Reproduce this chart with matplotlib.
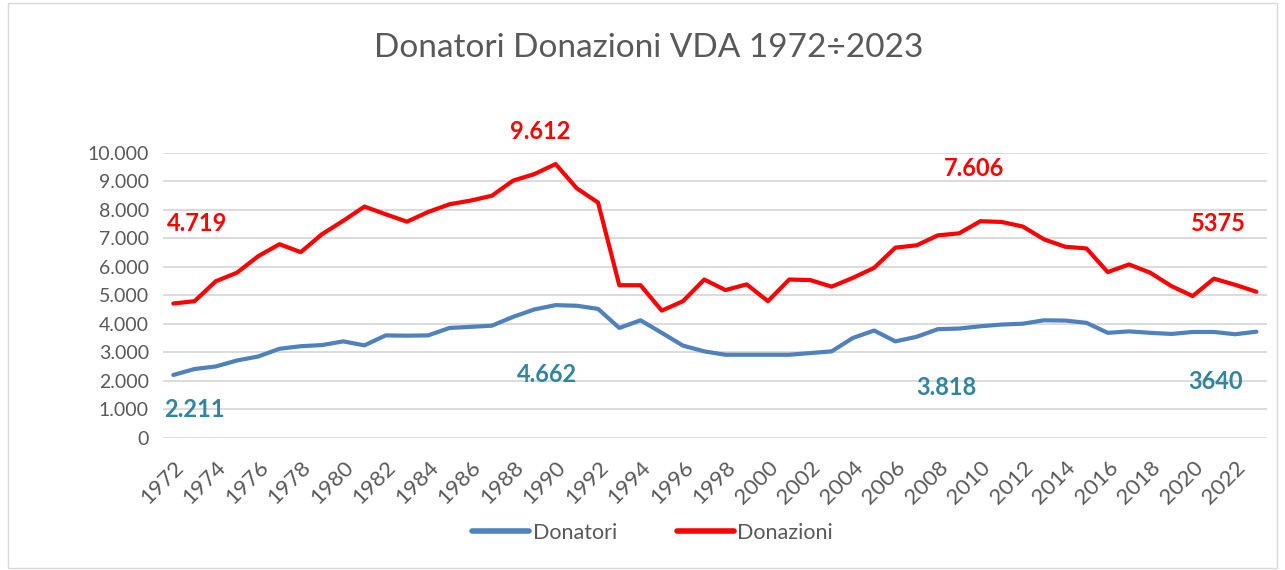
import matplotlib.pyplot as plt
import matplotlib.ticker as mticker
from matplotlib.patches import Rectangle

plt.rcParams['font.family'] = ['Lato', 'DejaVu Sans']

years = list(range(1972, 2024))

donatori = [2211, 2420, 2510, 2720, 2860, 3130, 3220, 3260, 3390, 3250,
            3600, 3590, 3600, 3860, 3900, 3940, 4250, 4510, 4662, 4640,
            4530, 3860, 4130, 3690, 3240, 3040, 2920, 2920, 2920, 2920,
            2980, 3040, 3510, 3770, 3390, 3550, 3818, 3840, 3920, 3980,
            4010, 4130, 4120, 4040, 3690, 3740, 3690, 3650, 3720, 3720,
            3640, 3730]

donazioni = [4719, 4800, 5500, 5800, 6380, 6800, 6520, 7150, 7620, 8120,
             7850, 7590, 7930, 8200, 8330, 8500, 9030, 9260, 9612, 8760,
             8260, 5360, 5360, 4470, 4800, 5560, 5190, 5390, 4800, 5560,
             5540, 5310, 5620, 5970, 6680, 6760, 7110, 7180, 7606, 7580,
             7420, 6970, 6710, 6650, 5820, 6090, 5800, 5330, 4980, 5590,
             5375, 5130]

# highlighted values: (text, x, y)
labels_rosso = [('4.719', 1973.1, 7540), ('9.612', 1989.3, 10740),
                ('7.606', 2009.7, 9440), ('5375', 2021.2, 7540)]
labels_blu = [('2.211', 1973.0, 990), ('4.662', 1989.6, 2220),
              ('3.818', 2008.4, 1760), ('3640', 2021.1, 1970)]

fig = plt.figure(figsize=(12.85, 5.7), dpi=100)
ax = fig.add_axes([0.1266, 0.2316, 0.8594, 0.5])

fig.patches.append(Rectangle((0.006, 0.004), 0.988, 0.99, transform=fig.transFigure,
                             fill=False, edgecolor='#D9D9D9', linewidth=1))

ax.plot(years, donatori, color='#4F81BD', linewidth=3, label='Donatori',
        solid_joinstyle='round', solid_capstyle='round')
ax.plot(years, donazioni, color='#FF0000', linewidth=3, label='Donazioni',
        solid_joinstyle='round', solid_capstyle='round')

for t, x, y in labels_rosso:
    ax.text(x, y, t, color='#FF0000', fontsize=17, fontweight='bold',
            ha='center', va='center', clip_on=False)
for t, x, y in labels_blu:
    ax.text(x, y, t, color='#31859C', fontsize=17, fontweight='bold',
            ha='center', va='center', clip_on=False)

ax.set_xlim(1971.5, 2023.5)
ax.set_ylim(0, 10000)
ax.set_yticks(range(0, 10001, 1000))
ax.yaxis.set_major_formatter(mticker.FuncFormatter(
    lambda v, p: f'{int(v):,}'.replace(',', '.')))
ax.set_xticks(years[::2])
ax.set_xticklabels([str(y) for y in years[::2]], rotation=45, ha='right',
                   rotation_mode='anchor')

ax.grid(axis='y', color='#D9D9D9', linewidth=1.3)
ax.set_axisbelow(True)
for s in ax.spines.values():
    s.set_visible(False)
ax.tick_params(length=0, colors='#595959', labelsize=14)
ax.tick_params(axis='x', labelsize=16, pad=14)
ax.tick_params(axis='y', pad=10)

fig.text(0.505, 0.915, 'Donatori Donazioni VDA 1972÷2023', ha='center', va='center',
         fontsize=24, color='#595959')

leg = fig.legend(loc='center', bbox_to_anchor=(0.508, 0.065), ncol=2, frameon=False,
                 fontsize=15.5, labelcolor='#595959', handlelength=2.65,
                 columnspacing=2.8, handletextpad=0.15)
for h in leg.get_lines():
    h.set_linewidth(4)

fig.savefig('out.png', dpi=100)
